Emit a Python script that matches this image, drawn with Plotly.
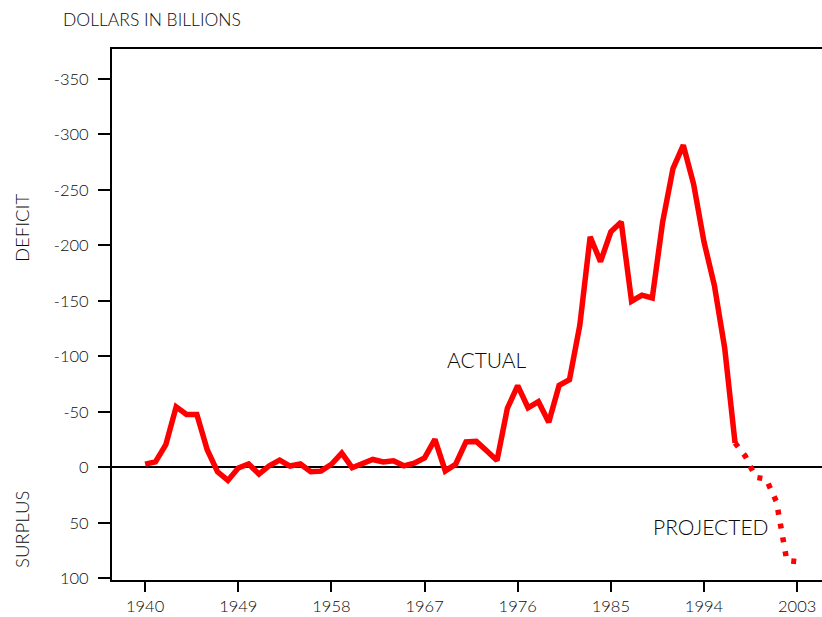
import plotly.graph_objects as go

# ---- data (billions of dollars; negative = deficit, positive = surplus) ----
years_actual = list(range(1940, 1998))
balance_actual = [-2.9, -4.9, -20.5, -54.6, -47.6, -47.6, -15.9, 4.0, 11.8, 0.6,
                  -3.1, 6.1, -1.5, -6.5, -1.2, -3.0, 3.9, 3.4, -2.8, -12.8,
                  0.3, -3.3, -7.1, -4.8, -5.9, -1.4, -3.7, -8.6, -25.2, 3.2,
                  -2.8, -23.0, -23.4, -14.9, -6.1, -53.2, -73.7, -53.7, -59.2, -40.7,
                  -73.8, -79.0, -128.0, -207.8, -185.4, -212.3, -221.2, -149.7, -155.2, -152.6,
                  -221.0, -269.2, -290.3, -255.1, -203.2, -164.0, -107.4, -22.0]
years_projected = [1997, 1998, 1999, 2000, 2001, 2002, 2003]
balance_projected = [-22.0, -10.0, 9.0, 10.5, 31.0, 84.0, 85.0]

x_ticks = [1940, 1949, 1958, 1967, 1976, 1985, 1994, 2003]
y_ticks = [-350, -300, -250, -200, -150, -100, -50, 0, 50, 100]

FONT = "Lato"
TXT = "#0a0a0a"
RED = "#ff0000"

fig = go.Figure()
fig.add_trace(go.Scatter(x=years_actual, y=balance_actual, mode="lines",
                         line=dict(color=RED, width=5.5), hoverinfo="skip"))
fig.add_trace(go.Scatter(x=years_projected, y=balance_projected, mode="lines",
                         line=dict(color=RED, width=5.5, dash="5px,9px"), hoverinfo="skip"))

L, T, R, B = 112, 49, 0, 37
W, H = 822, 617
pw, ph = W - L - R, H - T - B

def px(x):  # page pixel -> paper
    return (x - L) / pw

def py(y):
    return (H - B - y) / ph

fig.update_layout(
    width=W, height=H,
    margin=dict(l=L, r=R, t=T, b=B, pad=0),
    plot_bgcolor="white", paper_bgcolor="white",
    showlegend=False,
    font=dict(family=FONT, color=TXT, size=16),
    xaxis=dict(range=[1936.8, 2005.4], tickvals=x_ticks, ticktext=[str(v) for v in x_ticks],
               showgrid=False, zeroline=False, showline=True, linecolor="black", linewidth=2,
               mirror=True, ticks="outside", ticklen=10, tickwidth=2, tickcolor="black",
               tickfont=dict(family=FONT, size=16.5, color=TXT, weight=300)),
    yaxis=dict(range=[101.5, -377], tickvals=y_ticks, ticktext=[str(v) for v in y_ticks],
               showgrid=False, zeroline=True, zerolinecolor="black", zerolinewidth=2,
               showline=True, linecolor="black", linewidth=2,
               ticks="outside", ticklen=12, tickwidth=2, tickcolor="black",
               ticklabelstandoff=6,
               tickfont=dict(family=FONT, size=16.5, color=TXT, weight=300)),
)

ann = [
    dict(text="DOLLARS IN BILLIONS", x=px(61), y=py(19), xanchor="left", yanchor="middle",
         font=dict(size=17.5)),
    dict(text="DEFICIT", x=px(22), y=py(228), xanchor="center", yanchor="middle",
         textangle=-90, font=dict(size=18.5)),
    dict(text="SURPLUS", x=px(22), y=py(530), xanchor="center", yanchor="middle",
         textangle=-90, font=dict(size=18.5)),
]
for a in ann:
    a.update(xref="paper", yref="paper", showarrow=False)
    a["font"].update(family=FONT, color=TXT, weight=300)
    fig.add_annotation(**a)

fig.add_annotation(text="ACTUAL", x=1973.05, y=-96.8, xref="x", yref="y", showarrow=False,
                   xanchor="center", yanchor="middle",
                   font=dict(family=FONT, size=21, color=TXT, weight=300))
fig.add_annotation(text="PROJECTED", x=1994.7, y=53.6, xref="x", yref="y", showarrow=False,
                   xanchor="center", yanchor="middle",
                   font=dict(family=FONT, size=21, color=TXT, weight=300))

fig.write_html("out.html",
               config={"displayModeBar": False, "staticPlot": True},
               post_script="document.body.style.margin='0';document.body.style.overflow='hidden';")
